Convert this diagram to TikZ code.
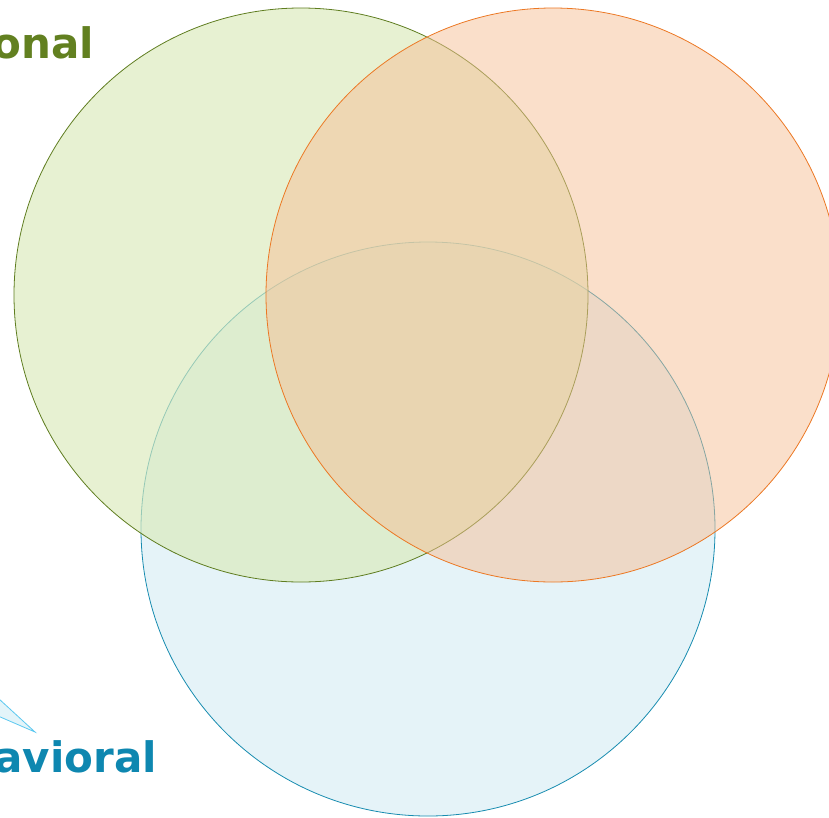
\documentclass[tikz,border=0pt]{standalone}
\usepackage{fontspec}
\newfontfamily\labelfont{DejaVu Sans}
\definecolor{gfill}{RGB}{218,234,186}
\definecolor{gline}{RGB}{95,125,32}
\definecolor{ofill}{RGB}{245,191,149}
\definecolor{oline}{RGB}{236,120,36}
\definecolor{bfill}{RGB}{229,243,248}
\definecolor{bline}{RGB}{24,140,176}
\definecolor{gtext}{RGB}{98,128,32}
\definecolor{btext}{RGB}{14,135,176}
\definecolor{tfill}{RGB}{227,244,249}
\definecolor{tline}{RGB}{91,200,240}
\begin{document}
\begin{tikzpicture}[x=1pt,y=-1pt,
  setcircle/.style={circle,minimum size=574pt,inner sep=0pt,line width=0.8pt},
  lbl/.style={font=\labelfont\bfseries\fontsize{42}{50}\selectfont,inner sep=0pt,anchor=base east}]
\useasboundingbox (0,0) rectangle (829,817);
\node[setcircle,draw=bline,fill=bfill] (blue) at (428,529) {};
\node[setcircle,draw=gline,fill=gfill,fill opacity=0.65] (green) at (301,295) {};
\node[setcircle,draw=oline,fill=ofill,fill opacity=0.5] (orange) at (553,295) {};
\node[lbl,text=gtext] (tg) at (94,58) {onal};
\node[lbl,text=btext] (tb) at (157,772) {avioral};
\coordinate (t1) at (-2,698);
\coordinate (t2) at (-2,716);
\coordinate (t3) at (35,732);
\draw[tline,fill=tfill,line width=0.8pt] (t1) -- (t3) -- (t2);
\end{tikzpicture}
\end{document}
